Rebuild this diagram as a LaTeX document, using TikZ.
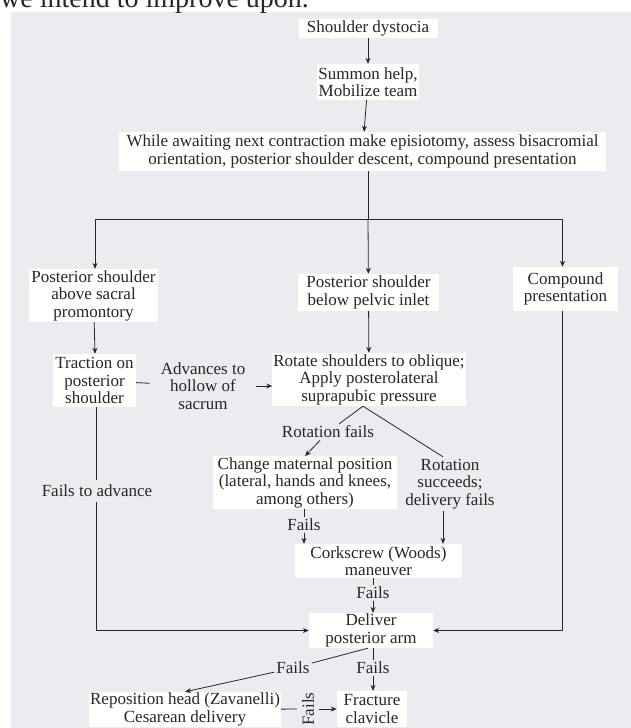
\documentclass[tikz,border=0pt]{standalone}
\usepackage{fontspec}
\setmainfont{Liberation Serif}
\usetikzlibrary{arrows.meta, positioning, calc}
\definecolor{fundo}{RGB}{234, 236, 240}
\definecolor{tinta}{RGB}{38, 38, 38}
\tikzset{
  caixa/.style={
    fill=white, text=tinta, align=center, inner sep=1pt,
    font=\fontsize{17}{17.5}\selectfont
  },
  rotulo/.style={text=tinta, align=center, inner sep=2pt, font=\fontsize{17}{17.5}\selectfont},
  seta/.style={-{Stealth[length=6pt, width=5pt]}, line width=0.8pt, tinta},
  linha/.style={line width=0.8pt, tinta},
}

\begin{document}
\begin{tikzpicture}[x=1pt, y=-1pt]
        \useasboundingbox (0,0) rectangle (631,728);
        \fill[fundo] (11,12) rectangle (631,728);
        \node[anchor=base west, inner sep=0pt, text=tinta, font=\fontsize{28}{30}\selectfont] (cabeca) at (0,7.5) {we intend to improve upon.};

        % coluna central
        \node[caixa, minimum width=139pt, minimum height=19pt] (dist) at (368,28) {Shoulder dystocia};
        \node[caixa, minimum width=101pt, minimum height=36pt] (ajuda) at (368,82) {Summon help,\\Mobilize team};
        \node[caixa, minimum width=487pt, minimum height=39pt] (espera) at (362.5,151.5)
          {While awaiting next contraction make episiotomy, assess bisacromial\\orientation, posterior shoulder descent, compound presentation};
        \coordinate (ramo) at (368,219);

        \node[caixa, minimum width=129pt, minimum height=53pt] (acima) at (93.5,295.5)
          {Posterior shoulder\\above sacral\\promontory};
        \node[caixa, minimum width=141pt, minimum height=37pt] (abaixo) at (368.5,292.5)
          {Posterior shoulder\\below pelvic inlet};
        \node[caixa, minimum width=105pt, minimum height=44pt] (composta) at (565.5,289)
          {Compound\\presentation};

        \node[caixa, minimum width=83pt, minimum height=53pt] (tracao) at (94.5,380.5)
          {Traction on\\posterior\\shoulder};
        \node[rotulo, inner xsep=11pt] (avanca) at (203,386) {Advances to\\hollow of\\sacrum};
        \node[caixa, minimum width=192pt, minimum height=53pt] (rodar) at (369,379.5)
          {Rotate shoulders to oblique;\\Apply posterolateral\\suprapubic pressure};

        \node[rotulo] (rotfalha) at (328,432) {Rotation fails};
        \node[caixa, minimum width=184pt, minimum height=51pt] (posicao) at (305,482.5)
          {Change maternal position\\(lateral, hands and knees,\\among others)};
        \node[rotulo] (rotok) at (450,484) {Rotation\\succeeds;\\delivery fails};
        \node[rotulo] (falha1) at (304,525) {Fails};

        \node[caixa, minimum width=167pt, minimum height=34pt] (saca) at (378.5,561)
          {Corkscrew (Woods)\\maneuver};
        \node[rotulo] (falha2) at (373,593) {Fails};
        \node[caixa, minimum width=124pt, minimum height=35pt] (braco) at (371,630.5)
          {Deliver\\posterior arm};
        \node[rotulo, inner ysep=5pt] (naoavanca) at (97,491) {Fails to advance};

        \node[rotulo] (falha3) at (293,668) {Fails};
        \node[rotulo] (falha4) at (373,668) {Fails};
        \node[caixa, minimum width=188pt, minimum height=35pt] (zava) at (185,709.5)
          {Reposition head (Zavanelli)\\Cesarean delivery};
        \node[caixa, minimum width=70pt, minimum height=36pt] (clav) at (372,709)
          {Fracture\\clavicle};
        \node[rotulo, rotate=90, inner ysep=5pt] (falha5) at (308,709) {Fails};

        % ligações
        \draw[seta] (dist) -- (ajuda);
        \draw[seta] (ajuda) -- (espera);
        \draw[linha] (espera.south -| ramo) -- (ramo);
        \draw[seta] (ramo) -- (abaixo);
        \draw[seta] (ramo) -| (acima.north -| 95,0);
        \draw[seta] (ramo) -| (composta.north -| 562.5,0);

        \draw[seta] (acima) -- (tracao.north -| 95,0);
        \draw[linha] (tracao) -- (avanca);
        \draw[seta] (avanca) -- (avanca -| rodar.west);
        \draw[seta] (abaixo) -- (rodar);

        \draw[linha] ([xshift=-6pt]rodar.south) -- (rotfalha);
        \draw[seta] (rotfalha) -- (posicao.north);
        \draw[linha] ([xshift=-6pt]rodar.south) -- ([xshift=-7pt]rotok.north);
        \draw[seta] ([xshift=-7pt]rotok.south) -- ([xshift=-7pt]rotok.south |- saca.north);
        \draw[linha] (posicao.south -| falha1) -- (falha1);
        \draw[seta] (falha1) -- (falha1 |- saca.north);

        \draw[linha] (saca.south -| falha2) -- (falha2);
        \draw[seta] (falha2) -- (falha2 |- braco.north);
        \draw[linha] (tracao.south -| 96,0) -- (naoavanca.north -| 96,0);
        \draw[seta] (naoavanca.south -| 96,0) |- (braco.west);
        \draw[seta] (composta.south -| 562.5,0) |- (braco.east);

        \draw[linha] ([xshift=-3pt]braco.south) -- (falha3);
        \draw[seta] (falha3) -- (zava.north);
        \draw[linha] (braco.south -| falha4) -- (falha4);
        \draw[seta] (falha4) -- (falha4 |- clav.north);
        \draw[linha] (zava) -- (falha5);
        \draw[seta] (falha5) -- (clav);
      \end{tikzpicture}
\end{document}
